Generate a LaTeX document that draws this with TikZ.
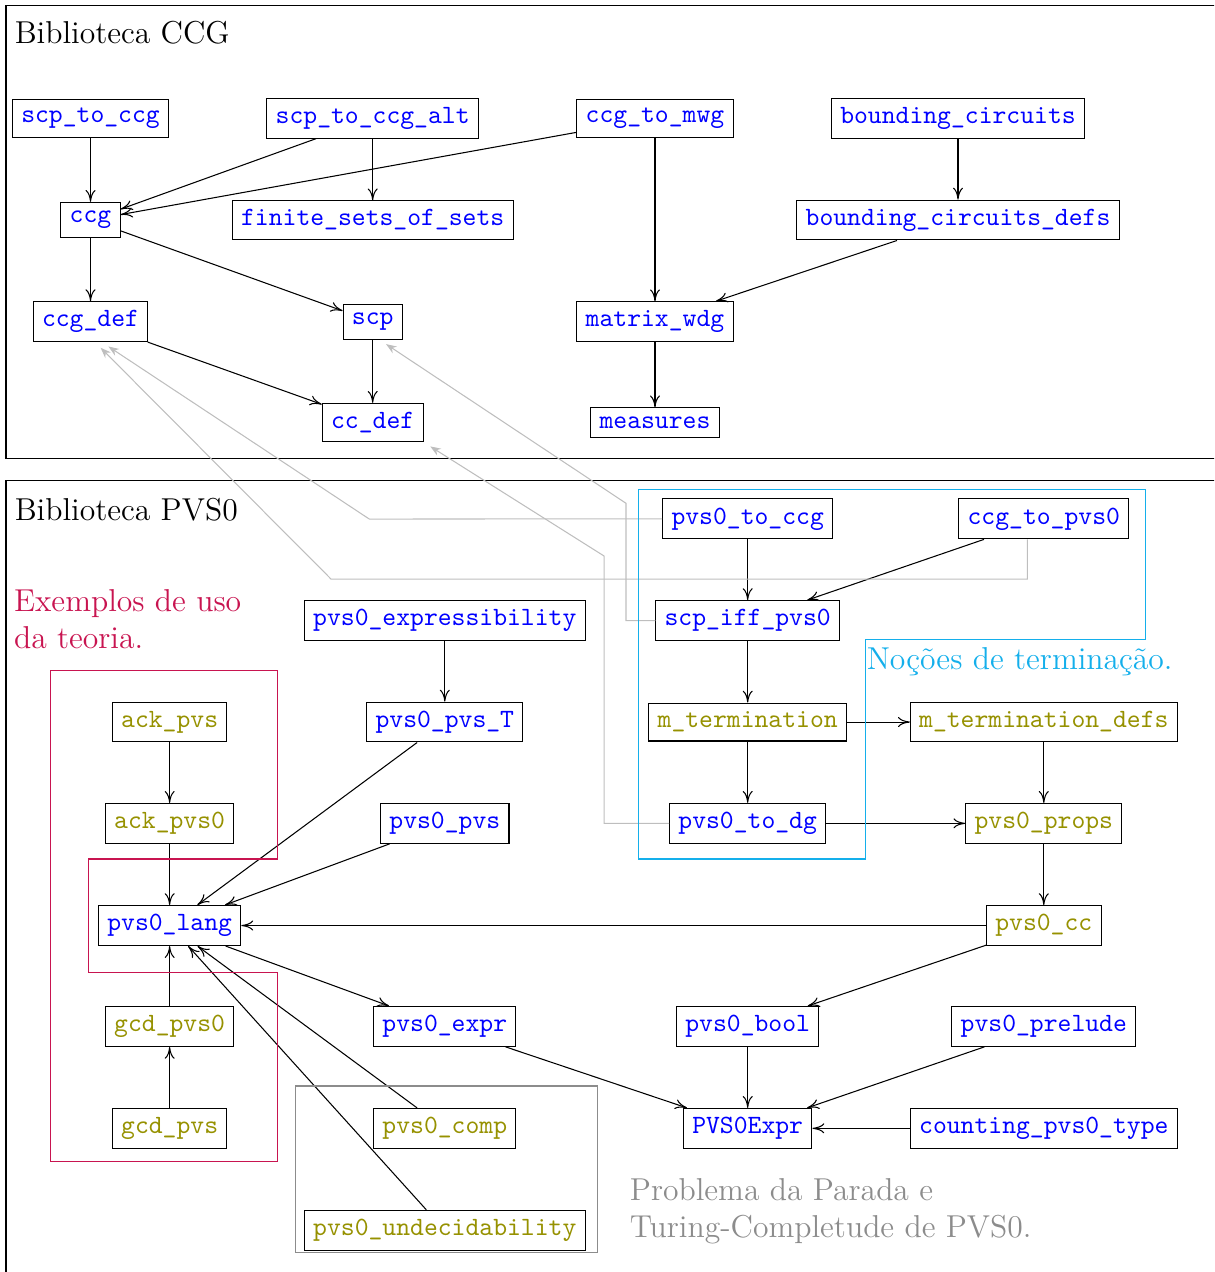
\documentclass[tikz,border=0pt]{standalone}
\usepackage{xcolor}
\usetikzlibrary{arrows.meta,calc}
\definecolor{exemplo}{RGB}{200,20,80}
\definecolor{terminacao}{RGB}{20,175,235}
\definecolor{parada}{RGB}{140,140,140}
\definecolor{oliva}{RGB}{150,145,0}
\definecolor{refgray}{RGB}{190,190,190}

\begin{document}
\begin{tikzpicture}[>={To[length=4.5pt,width=3.8pt]},
 mod/.style={draw,font=\ttfamily,text=blue},
 ex/.style={draw,font=\ttfamily,text=oliva},
 ref/.style={refgray,-{Stealth[length=4pt,width=3pt]},shorten >=3pt},
 rotulo/.style={anchor=base west,inner sep=0pt,font=\large,align=left}]
 \clip (0,0) rectangle (16.174,-16.946);
 % molduras
 \draw (0.08,-0.067) rectangle (16.4,-6.102);
 \draw (0.08,-6.404) rectangle (16.4,-17.2);
 \node[rotulo] (tccg) at (0.19,-0.577) {Biblioteca CCG};
 \node[rotulo] (tpvs) at (0.19,-6.928) {Biblioteca PVS0};
 % Biblioteca CCG
 \node[mod] (stc) at (1.206,-1.575) {scp\_to\_ccg};
 \node[mod] (stca) at (4.965,-1.575) {scp\_to\_ccg\_alt};
 \node[mod] (ctm) at (8.726,-1.575) {ccg\_to\_mwg};
 \node[mod] (bc) at (12.763,-1.575) {bounding\_circuits};
 \node[mod] (ccg) at (1.206,-2.931) {ccg};
 \node[mod] (fsos) at (4.965,-2.931) {finite\_sets\_of\_sets};
 \node[mod] (bcd) at (12.763,-2.931) {bounding\_circuits\_defs};
 \node[mod] (ccgdef) at (1.206,-4.285) {ccg\_def};
 \node[mod] (scp) at (4.965,-4.285) {scp};
 \node[mod] (mwdg) at (8.726,-4.285) {matrix\_wdg};
 \node[mod] (ccdef) at (4.965,-5.629) {cc\_def};
 \node[mod] (meas) at (8.726,-5.629) {measures};
 \draw[->] (stc) -- (ccg);
 \draw[->] (stca) -- (ccg);
 \draw[->] (ctm) -- (ccg);
 \draw[->] (stca) -- (fsos);
 \draw[->] (ccg) -- (ccgdef);
 \draw[->] (ccg) -- (scp);
 \draw[->] (ccgdef) -- (ccdef);
 \draw[->] (scp) -- (ccdef);
 \draw[->] (ctm) -- (mwdg);
 \draw[->] (bc) -- (bcd);
 \draw[->] (bcd) -- (mwdg);
 \draw[->] (mwdg) -- (meas);
 % Biblioteca PVS0
 \node[mod] (ptc) at (9.961,-6.912) {pvs0\_to\_ccg};
 \node[mod] (ctp) at (13.906,-6.912) {ccg\_to\_pvs0};
 \node[mod] (pexp) at (5.926,-8.267) {pvs0\_expressibility};
 \node[mod] (sip) at (9.961,-8.267) {scp\_iff\_pvs0};
 \node[ex] (ackp) at (2.260,-9.619) {ack\_pvs};
 \node[mod] (ppt) at (5.926,-9.619) {pvs0\_pvs\_T};
 \node[ex] (mt) at (9.961,-9.619) {m\_termination};
 \node[ex] (mtd) at (13.906,-9.619) {m\_termination\_defs};
 \node[ex] (ackp0) at (2.260,-10.969) {ack\_pvs0};
 \node[mod] (pp) at (5.926,-10.969) {pvs0\_pvs};
 \node[mod] (ptd) at (9.961,-10.969) {pvs0\_to\_dg};
 \node[ex] (props) at (13.906,-10.969) {pvs0\_props};
 \node[mod] (lang) at (2.260,-12.330) {pvs0\_lang};
 \node[ex] (pcc) at (13.906,-12.330) {pvs0\_cc};
 \node[ex] (gcdp0) at (2.260,-13.674) {gcd\_pvs0};
 \node[mod] (pexpr) at (5.926,-13.674) {pvs0\_expr};
 \node[mod] (pbool) at (9.961,-13.674) {pvs0\_bool};
 \node[mod] (prel) at (13.906,-13.674) {pvs0\_prelude};
 \node[ex] (gcdp) at (2.260,-15.032) {gcd\_pvs};
 \node[ex] (pcomp) at (5.926,-15.032) {pvs0\_comp};
 \node[mod] (pvsexpr) at (9.961,-15.032) {PVS0Expr};
 \node[mod] (cpt) at (13.906,-15.032) {counting\_pvs0\_type};
 \node[ex] (pund) at (5.926,-16.390) {pvs0\_undecidability};
 \draw[->] (ptc) -- (sip);
 \draw[->] (ctp) -- (sip);
 \draw[->] (pexp) -- (ppt);
 \draw[->] (sip) -- (mt);
 \draw[->] (mt) -- (mtd);
 \draw[->] (mt) -- (ptd);
 \draw[->] (mtd) -- (props);
 \draw[->] (ptd) -- (props);
 \draw[->] (props) -- (pcc);
 \draw[->] (ackp) -- (ackp0);
 \draw[->] (ackp0) -- (lang);
 \draw[->] (ppt) -- (lang);
 \draw[->] (pp) -- (lang);
 \draw[->] (pcc) -- (lang);
 \draw[->] (gcdp0) -- (lang);
 \draw[->] (gcdp) -- (gcdp0);
 \draw[->] (pcomp) -- (lang);
 \draw[->] (pund) -- (lang);
 \draw[->] (lang) -- (pexpr);
 \draw[->] (pcc) -- (pbool);
 \draw[->] (pexpr) -- (pvsexpr);
 \draw[->] (pbool) -- (pvsexpr);
 \draw[->] (prel) -- (pvsexpr);
 \draw[->] (cpt) -- (pvsexpr);
 % referencias entre bibliotecas
 \coordinate (kA) at (4.92,-6.915);
 \coordinate (kB) at (4.41,-7.714);
 \coordinate (kC) at (8.34,-6.705);
 \coordinate (kD) at (8.047,-7.407);
 \draw[ref] (ptc.west) -- (kA) -- ($(ccgdef.south)+(0.15,0)$);
 \draw[ref] ($(ctp.south)+(-0.22,0)$) |- (kB) -- ($(ccgdef.south)+(0.06,0)$);
 \draw[ref] (sip.west) -| (kC) -- ($(scp.south)+(0.09,0)$);
 \draw[ref] (ptd.west) -| (kD) -- (ccdef.south east);
 % agrupamentos
 \draw[exemplo] (0.679,-8.929) -- (3.701,-8.929) -- (3.701,-11.444) -- (1.178,-11.444)
  -- (1.178,-12.950) -- (3.701,-12.950) -- (3.701,-15.477) -- (0.679,-15.477) -- cycle;
 \node[rotulo,text=exemplo] (texe) at (0.18,-8.633) {Exemplos de uso\\da teoria.};
 \draw[terminacao] (8.506,-6.515) -- (15.258,-6.515) -- (15.258,-8.520) -- (11.531,-8.520)
  -- (11.531,-11.444) -- (8.506,-11.444) -- cycle;
 \node[rotulo,text=terminacao] (tter) at (11.54,-8.922) {Noções de terminação.};
 \draw[parada] (3.941,-14.468) rectangle (7.964,-16.685);
 \node[rotulo,text=parada] (tpar) at (8.385,-16.48) {Problema da Parada e\\Turing-Completude de PVS0.};
\end{tikzpicture}
\end{document}
